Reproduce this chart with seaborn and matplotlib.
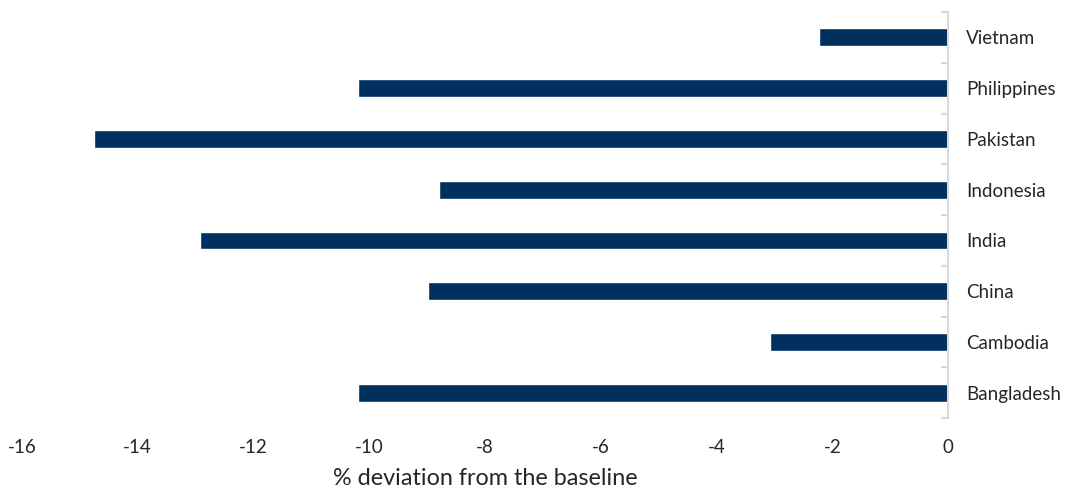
import pandas as pd
import seaborn as sns
import matplotlib.pyplot as plt
from matplotlib.ticker import FixedLocator

countries = ['Vietnam', 'Philippines', 'Pakistan', 'Indonesia', 'India', 'China', 'Cambodia', 'Bangladesh']
deviation = [-2.23, -10.2, -14.75, -8.79, -12.92, -8.98, -3.07, -10.2]

df = pd.DataFrame({'country': countries, 'deviation': deviation})

sns.set_style('white')
plt.rcParams['font.family'] = ['Lato', 'DejaVu Sans']
plt.rcParams['axes.unicode_minus'] = False

fig, ax = plt.subplots(figsize=(10.67, 4.94), dpi=100)
fig.subplots_adjust(left=0.0206, right=0.8885, top=0.9757, bottom=0.1538)

sns.barplot(data=df, x='deviation', y='country', orient='h', color='#00305E',
            width=0.35, saturation=1, ax=ax)

ax.set_xlim(-16, 0)
ax.set_ylim(7.5, -0.5)
ax.set_xticks(range(-16, 1, 2))
ax.tick_params(axis='x', length=0, pad=15, labelsize=13.5)

# category axis drawn on the right, at x = 0
ax.yaxis.tick_right()
ax.tick_params(axis='y', which='major', length=0, pad=13, labelsize=13.5)
ax.yaxis.set_minor_locator(FixedLocator([i - 0.5 for i in range(len(countries) + 1)]))
ax.tick_params(axis='y', which='minor', direction='in', length=5, color='#d9d9d9', width=1.5)

for s in ['top', 'left', 'bottom']:
    ax.spines[s].set_visible(False)
ax.spines['right'].set_color('#d9d9d9')
ax.spines['right'].set_linewidth(1.5)

ax.set_ylabel('')
ax.set_xlabel('% deviation from the baseline', fontsize=16.8, labelpad=9)

plt.savefig('out.png', dpi=100)
